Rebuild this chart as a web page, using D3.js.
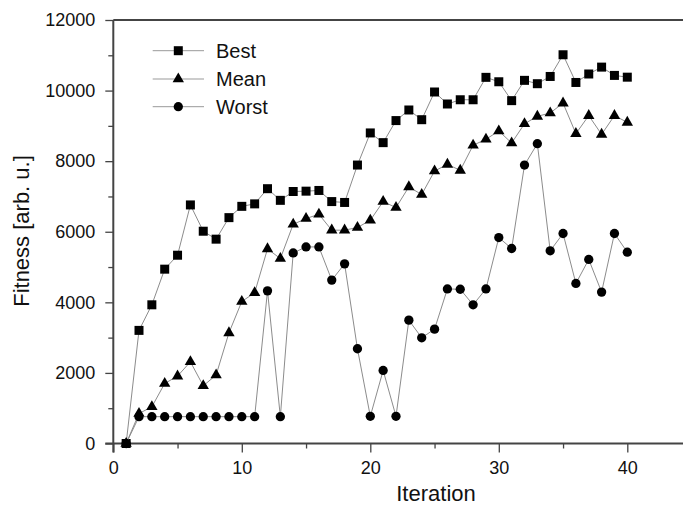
<!DOCTYPE html>
<html>
<head>
<meta charset="utf-8">
<script src="https://cdn.jsdelivr.net/npm/d3@7"></script>
<style>
  body { margin: 0; background: #fff; }
  svg { display: block; font-family: "Liberation Sans", Arial, sans-serif; }
</style>
</head>
<body>
<svg id="chart" width="683" height="506"></svg>
<script>
// --- DATA --------------------------------------------------------------------
const iterations = d3.range(1, 41);

const best = [0, 3205, 3930, 4940, 5335, 6760, 6015, 5790, 6400, 6720,
  6790, 7220, 6890, 7140, 7150, 7170, 6855, 6830, 7890, 8800,
  8525, 9150, 9450, 9175, 9960, 9620, 9740, 9740, 10375, 10250,
  9715, 10290, 10195, 10400, 11015, 10230, 10470, 10665, 10430, 10380];

const mean = [0, 850, 1040, 1700, 1910, 2315, 1635, 1940, 3135, 4025,
  4270, 5515, 5240, 6210, 6375, 6495, 6045, 6045, 6120, 6325,
  6855, 6685, 7270, 7055, 7720, 7910, 7740, 8450, 8620, 8855,
  8515, 9060, 9270, 9365, 9645, 8780, 9290, 8760, 9290, 9100];

const worst = [0, 760, 760, 760, 760, 760, 760, 760, 760, 760,
  760, 4325, 760, 5400, 5570, 5570, 4630, 5090, 2685, 770,
  2070, 770, 3495, 2995, 3240, 4380, 4370, 3930, 4380, 5835,
  5525, 7890, 8495, 5460, 5950, 4535, 5215, 4290, 5950, 5420];

const xMajor = [0, 10, 20, 30, 40];
const xMinor = [5, 15, 25, 35];
const yMajor = [0, 2000, 4000, 6000, 8000, 10000, 12000];
const yMinor = [1000, 3000, 5000, 7000, 9000, 11000];

const seriesNames = ['Best', 'Mean', 'Worst'];

// --- LAYOUT ------------------------------------------------------------------
const X0 = 113.3, PX_PER_IT = 12.85;
const Y_BOTTOM = 443.5, Y_TOP = 20;
const AXIS_COL = '#444';
const LINE_COL = '#8c8c8c';

const svg = d3.select('#chart');

const x = d3.scaleLinear().domain([0, 45]).range([X0, X0 + 45 * PX_PER_IT]);
const y = d3.scaleLinear().domain([0, 12000]).range([Y_BOTTOM, Y_TOP]);

const symbols = {
  Best:  d3.symbol().type(d3.symbolSquare).size(81),
  Mean:  d3.symbol().type(d3.symbolTriangle).size(56),
  Worst: d3.symbol().type(d3.symbolCircle).size(68),
};

// --- FRAME (top edge; right edge falls outside the window) ------------------
svg.append('line')
  .attr('x1', X0).attr('x2', x(45))
  .attr('y1', Y_TOP).attr('y2', Y_TOP)
  .attr('stroke', AXIS_COL).attr('stroke-width', 2);

// --- AXES --------------------------------------------------------------------
function styleAxis(g) {
  g.select('.domain').attr('stroke', AXIS_COL).attr('stroke-width', 2);
  g.selectAll('.tick line').attr('stroke', AXIS_COL).attr('stroke-width', 1.3);
  g.selectAll('.tick text').attr('fill', '#111').attr('font-size', 18);
}

svg.append('g')
  .attr('transform', `translate(0,${Y_BOTTOM})`)
  .call(d3.axisBottom(x).tickValues(xMinor).tickSize(5).tickFormat(''))
  .call(g => g.select('.domain').remove())
  .call(g => g.selectAll('.tick line').attr('stroke', AXIS_COL).attr('stroke-width', 1.3));

svg.append('g')
  .attr('transform', `translate(${X0},0)`)
  .call(d3.axisLeft(y).tickValues(yMinor).tickSize(5).tickFormat(''))
  .call(g => g.select('.domain').remove())
  .call(g => g.selectAll('.tick line').attr('stroke', AXIS_COL).attr('stroke-width', 1.3));

svg.append('g')
  .attr('transform', `translate(0,${Y_BOTTOM})`)
  .call(d3.axisBottom(x).tickValues(xMajor).tickSize(9).tickPadding(9).tickSizeOuter(0).tickFormat(d3.format('d')))
  .call(styleAxis)
  .call(g => g.select('.domain').attr('d', `M${X0 - 8},0H${x(45)}`));

svg.append('g')
  .attr('transform', `translate(${X0},0)`)
  .call(d3.axisLeft(y).tickValues(yMajor).tickSize(8).tickPadding(10).tickSizeOuter(0).tickFormat(d3.format('d')))
  .call(styleAxis)
  .call(g => g.select('.domain').attr('d', `M0,${Y_TOP}V${Y_BOTTOM + 9}`));

// Axis titles
svg.append('text')
  .attr('x', 436).attr('y', 500.5)
  .attr('text-anchor', 'middle').attr('font-size', 22).attr('fill', '#111')
  .text('Iteration');

svg.append('text')
  .attr('transform', 'translate(28.5,231) rotate(-90)')
  .attr('text-anchor', 'middle').attr('font-size', 22).attr('fill', '#111')
  .text('Fitness [arb. u.]');

// --- SERIES ------------------------------------------------------------------
const seriesData = { Best: best, Mean: mean, Worst: worst };
const line = d3.line().x(d => x(d[0])).y(d => y(d[1]));

seriesNames.forEach(name => {
  const pts = iterations.map((it, i) => [it, seriesData[name][i]]);
  svg.append('path')
    .datum(pts)
    .attr('d', line)
    .attr('fill', 'none')
    .attr('stroke', LINE_COL)
    .attr('stroke-width', 1);
  svg.append('g')
    .selectAll('path')
    .data(pts)
    .join('path')
    .attr('transform', d => `translate(${x(d[0])},${y(d[1])})`)
    .attr('d', symbols[name]())
    .attr('fill', '#000');
});

// --- LEGEND ------------------------------------------------------------------
const legendRows = [50.7, 79, 106.7];
const legend = svg.append('g');
seriesNames.forEach((name, i) => {
  const row = legend.append('g').attr('transform', `translate(0,${legendRows[i]})`);
  row.append('line')
    .attr('x1', 152.7).attr('x2', 204).attr('y1', 0).attr('y2', 0)
    .attr('stroke', '#999').attr('stroke-width', 1);
  row.append('path')
    .attr('transform', 'translate(178.3,0)')
    .attr('d', symbols[name]())
    .attr('fill', '#000');
  row.append('text')
    .attr('x', 216).attr('y', 0).attr('dy', '0.36em')
    .attr('font-size', 20).attr('fill', '#111')
    .text(name);
});
</script>
</body>
</html>
